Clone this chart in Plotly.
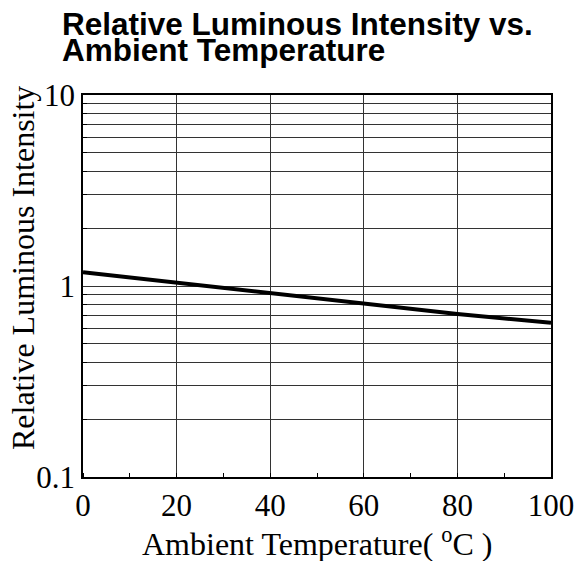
import plotly.graph_objects as go

# Data
temperature = [0, 20, 40, 60, 80, 100]
rel_intensity = [1.18, 1.04, 0.916, 0.802, 0.713, 0.642]

x_ticks = [0, 20, 40, 60, 80, 100]
y_ticks = [0.1, 1, 10]
y_tick_labels = ["0.1", "1", "10"]
y_minor = [0.2, 0.3, 0.4, 0.5, 0.6, 0.7, 0.8, 0.9, 2, 3, 4, 5, 6, 7, 8, 9]

title_line1 = "Relative Luminous Intensity vs."
title_line2 = "Ambient Temperature"
x_title = "Ambient Temperature( <sup>o</sup>C )"
y_title = "Relative Luminous Intensity"

serif = "Liberation Serif, Times New Roman, serif"
sans = "Liberation Sans, Arial, sans-serif"

fig = go.Figure()
fig.add_trace(go.Scatter(
    x=temperature, y=rel_intensity, mode="lines",
    line=dict(color="black", width=4), showlegend=False,
))

# page has an 8px body margin, so the figure is 8px smaller and offset
L, R, T, B = 75, 27, 87, 84
W, H = 578, 553
pw = W - L - R
ph = H - T - B

def px_x(px):
    return (px - L) / pw

def px_y(py):
    return (H - B - py) / ph

fig.update_layout(
    width=W, height=H,
    margin=dict(l=L, r=R, t=T, b=B, pad=0),
    paper_bgcolor="white", plot_bgcolor="white",
    xaxis=dict(
        range=[0, 100], tickmode="array", tickvals=x_ticks,
        showgrid=True, gridcolor="#333333", gridwidth=1,
        showline=True, linecolor="black", linewidth=1.5, mirror=True,
        ticks="", zeroline=False,
        tickfont=dict(family=serif, size=31, color="black"),
        minor=dict(dtick=10, ticks="inside", ticklen=4, tickcolor="black", showgrid=False),
    ),
    yaxis=dict(
        type="log", range=[-1, 1], tickmode="array", tickvals=y_ticks, ticktext=y_tick_labels,
        showgrid=True, gridcolor="#333333", gridwidth=1,
        showline=True, linecolor="black", linewidth=1.5, mirror=True,
        ticks="", zeroline=False,
        tickfont=dict(family=serif, size=31, color="black"),
        minor=dict(tickmode="array", tickvals=y_minor, ticks="inside", ticklen=4,
                   tickcolor="black", showgrid=True, gridcolor="#333333", gridwidth=1),
    ),
    annotations=[
        dict(text="<b>" + title_line1 + "</b>", xref="paper", yref="paper",
             x=px_x(52), y=px_y(16.5), xanchor="left", yanchor="middle", showarrow=False,
             font=dict(family=sans, size=31.5, color="black")),
        dict(text="<b>" + title_line2 + "</b>", xref="paper", yref="paper",
             x=px_x(52), y=px_y(41.5), xanchor="left", yanchor="middle", showarrow=False,
             font=dict(family=sans, size=31.5, color="black")),
        dict(text=x_title, xref="paper", yref="paper",
             x=0.5, y=px_y(534), xanchor="center", yanchor="middle", showarrow=False,
             font=dict(family=serif, size=32, color="black")),
        dict(text=y_title, xref="paper", yref="paper", textangle=-90,
             x=px_x(14), y=px_y(260), xanchor="center", yanchor="middle", showarrow=False,
             font=dict(family=serif, size=32, color="black")),
    ],
)

fig.write_html("out.html")
